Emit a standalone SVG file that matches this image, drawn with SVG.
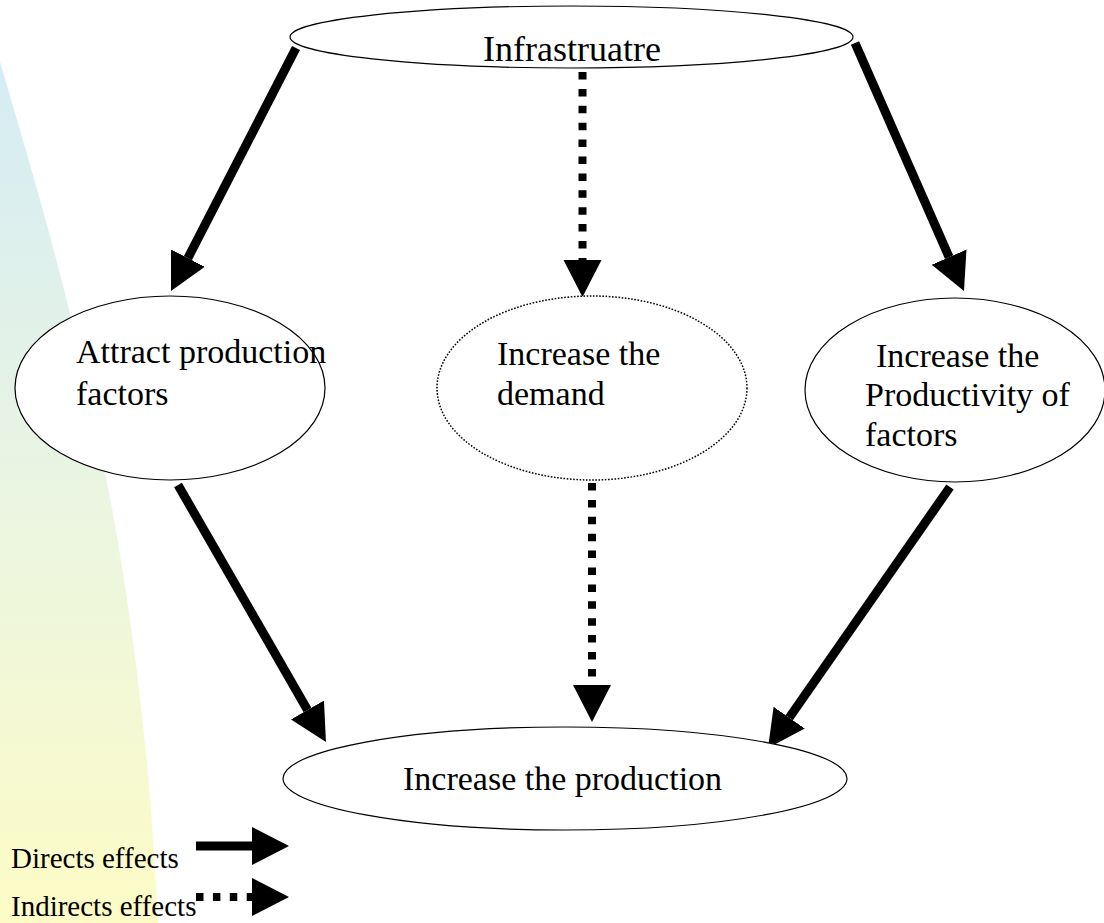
<svg xmlns="http://www.w3.org/2000/svg" width="1104" height="923" viewBox="0 0 1104 923">
<style>
  .node { fill: #ffffff; stroke: #000000; stroke-width: 1.2; }
  .dotted { stroke-dasharray: 1.6 1.6; stroke-width: 1.5; }
  .lbl { font-family: "Liberation Serif", "Times New Roman", serif; font-size: 34px; fill: #000000; }
  .leg { font-family: "Liberation Serif", "Times New Roman", serif; font-size: 29px; fill: #000000; }
  .solid { stroke: #000000; stroke-width: 9; fill: none; }
  .dash { stroke: #000000; stroke-width: 8; fill: none; stroke-dasharray: 7.5 9.4; }
</style>
<defs>
  <linearGradient id="bg" x1="0" y1="60" x2="0" y2="923" gradientUnits="userSpaceOnUse">
    <stop offset="0" stop-color="#d4ecf4"/>
    <stop offset="0.5" stop-color="#eaf5e2"/>
    <stop offset="1" stop-color="#fdfcc6"/>
  </linearGradient>
  <marker id="head" markerUnits="userSpaceOnUse" markerWidth="40" markerHeight="40" viewBox="0 -20 40 40" refX="0" refY="0" orient="auto">
    <path d="M0,-19 L37,0 L0,19 Z" fill="#000000"/>
  </marker>
</defs>
<rect x="0" y="0" width="1104" height="923" fill="#ffffff"/>
<path d="M0,62 C55,250 140,520 158,923 L0,923 Z" fill="url(#bg)"/>

<g id="connectors">
  <line class="solid" x1="296" y1="48" x2="187.9" y2="258.1" marker-end="url(#head)"/>
  <line class="solid" x1="855" y1="43" x2="949.1" y2="257.1" marker-end="url(#head)"/>
  <line class="dash" x1="582.5" y1="72" x2="582.5" y2="260" marker-end="url(#head)"/>
  <line class="solid" x1="178" y1="485" x2="307.5" y2="709.9" marker-end="url(#head)"/>
  <line class="solid" x1="950" y1="487" x2="789.2" y2="717.7" marker-end="url(#head)"/>
  <line class="dash" x1="592" y1="483" x2="592" y2="685" marker-end="url(#head)"/>
</g>

<g id="node-infrastructure">
  <ellipse class="node" cx="571.5" cy="37" rx="281.5" ry="31"/>
  <text class="lbl" x="483" y="61" style="font-size:36px">Infrastruatre</text>
</g>
<g id="node-attract">
  <ellipse class="node" cx="170" cy="388" rx="155" ry="92"/>
  <text class="lbl" x="76" y="363">Attract production</text>
  <text class="lbl" x="76" y="405">factors</text>
</g>
<g id="node-demand">
  <ellipse class="node dotted" cx="592" cy="388" rx="155" ry="92"/>
  <text class="lbl" x="497" y="365">Increase the</text>
  <text class="lbl" x="497" y="405">demand</text>
</g>
<g id="node-productivity">
  <ellipse class="node" cx="955" cy="390" rx="150" ry="92"/>
  <text class="lbl" x="876" y="367">Increase the</text>
  <text class="lbl" x="865" y="406">Productivity of</text>
  <text class="lbl" x="865" y="446">factors</text>
</g>
<g id="node-production">
  <ellipse class="node" cx="565" cy="778.5" rx="282" ry="51.5"/>
  <text class="lbl" x="403" y="790">Increase the production</text>
</g>

<g id="legend">
  <text class="leg" x="11" y="868">Directs effects</text>
  <line class="solid" x1="196" y1="846" x2="252" y2="846" marker-end="url(#head)"/>
  <text class="leg" x="11" y="916">Indirects effects</text>
  <line class="dash" x1="196" y1="897" x2="252" y2="897" marker-end="url(#head)"/>
</g>
</svg>
